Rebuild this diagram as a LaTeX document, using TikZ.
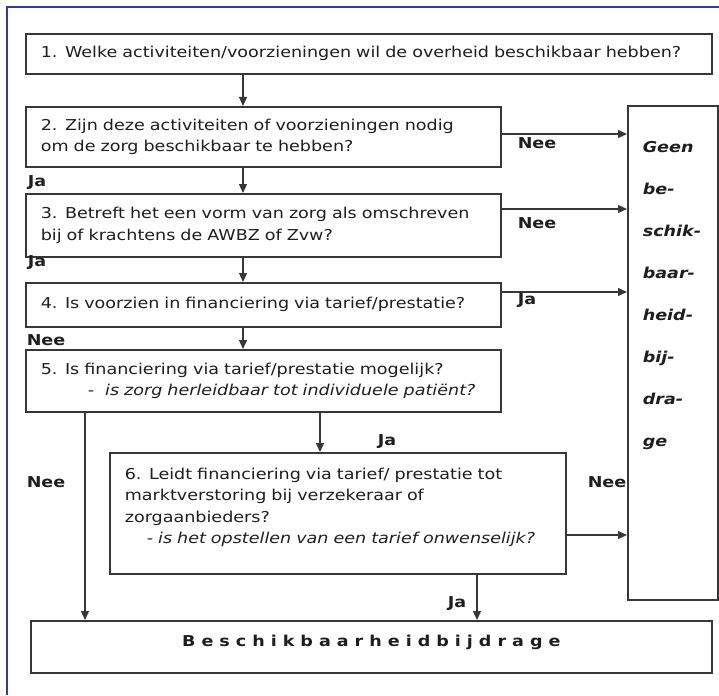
\documentclass[tikz,border=0pt]{standalone}
\usepackage{fontspec}
\setmainfont{DejaVu Sans}[FakeStretch = 1.17]
\newfontfamily\spatiefont{DejaVu Sans}[FakeStretch = 1.17, LetterSpace = 40]
\usetikzlibrary{calc, arrows.meta}

\definecolor{kader}{RGB}{48, 60, 160}
\definecolor{lijn}{RGB}{55, 55, 55}
\definecolor{tekst}{RGB}{30, 30, 30}

\tikzset{
    vak/.style = {draw = lijn, line width = 1.6pt, anchor = north west, align = left, inner xsep = 15pt, inner ysep = 0pt, text = tekst, font = \fontsize{15}{21.5}\selectfont},
    pijl/.style = {draw = lijn, line width = 1.3pt, -{Triangle[length = 9pt, width = 8pt]}},
    antw/.style = {text = tekst, font = \fontsize{15}{18}\selectfont\bfseries}
}

\begin{document}
\begin{tikzpicture}[x = 1pt, y = -1pt]
            \useasboundingbox (0, 0) rectangle (719, 695);
            \draw[kader, line width = 1.5pt] (7, 695) -- (7, 7) -- (719, 7);

            \coordinate (middenx) at (243, 0);
            \coordinate (nee2) at (0, 134);
            \coordinate (nee3) at (0, 209);
            \coordinate (ja4) at (0, 292);
            \coordinate (nee6) at (0, 535);
            \coordinate (nee5x) at (85, 0);
            \coordinate (ja5x) at (320, 0);
            \coordinate (ja6x) at (477, 0);

            \node[vak, text width = 656pt, minimum width = 686pt, minimum height = 40pt] (vraag1) at (25, 33) {1. Welke activiteiten/voorzieningen wil de overheid beschikbaar hebben?};
            \node[vak, text width = 445pt, minimum width = 475pt, minimum height = 60pt] (vraag2) at (25, 106) {2. Zijn deze activiteiten of voorzieningen nodig\\om de zorg beschikbaar te hebben?};
            \node[vak, text width = 445pt, minimum width = 475pt, minimum height = 63pt] (vraag3) at (25, 193) {3. Betreft het een vorm van zorg als omschreven\\bij of krachtens de AWBZ of Zvw?};
            \node[vak, text width = 445pt, minimum width = 475pt, minimum height = 44pt] (vraag4) at (25, 282) {4. Is voorzien in financiering via tarief/prestatie?};
            \node[vak, text width = 445pt, minimum width = 475pt, minimum height = 62pt] (vraag5) at (25, 349) {5. Is financiering via tarief/prestatie mogelijk?\\\hspace*{47pt}-\hspace*{11pt}\textit{is zorg herleidbaar tot individuele patiënt?}};
            \node[vak, text width = 426pt, minimum width = 456pt, minimum height = 121pt, text depth = 80pt] (vraag6) at (109, 452) {6. Leidt financiering via tarief/ prestatie tot\\marktverstoring bij verzekeraar of\\zorgaanbieders?\\\hspace*{22pt}\textit{- is het opstellen van een tarief onwenselijk?}};
            \node[vak, align = center, text width = 651pt, minimum width = 681pt, minimum height = 52pt, text depth = 12pt] (bijdrage) at (30, 620) {\spatiefont\bfseries Beschikbaarheidbijdrage};
            \node[vak, text width = 60pt, minimum width = 90pt, minimum height = 494pt, text depth = 412pt, font = \fontsize{15}{42}\selectfont\bfseries\itshape] (geen) at (627, 105) {Geen\\be-\\schik-\\baar-\\heid-\\bij-\\dra-\\ge};

            \draw[pijl] (vraag1.south -| middenx) -- (vraag2.north -| middenx);
            \draw[pijl] (vraag2.south -| middenx) -- (vraag3.north -| middenx);
            \draw[pijl] (vraag3.south -| middenx) -- (vraag4.north -| middenx);
            \draw[pijl] (vraag4.south -| middenx) -- (vraag5.north -| middenx);
            \draw[pijl] (vraag5.south -| ja5x) -- (vraag6.north -| ja5x);
            \draw[pijl] (vraag5.south -| nee5x) -- (bijdrage.north -| nee5x);
            \draw[pijl] (vraag6.south -| ja6x) -- (bijdrage.north -| ja6x);

            \draw[pijl] (vraag2.east |- nee2) -- (geen.west |- nee2);
            \draw[pijl] (vraag3.east |- nee3) -- (geen.west |- nee3);
            \draw[pijl] (vraag4.east |- ja4) -- (geen.west |- ja4);
            \draw[pijl] (vraag6.east |- nee6) -- (geen.west |- nee6);

            \node[antw] (lnee2) at (537, 143) {Nee};
            \node[antw] (lnee3) at (537, 223) {Nee};
            \node[antw] (lja4) at (527, 301) {Ja};
            \node[antw] (lja2) at (37, 183) {Ja};
            \node[antw] (lja3) at (37, 263) {Ja};
            \node[antw] (lnee4) at (46, 340) {Nee};
            \node[antw] (lnee5) at (46, 482) {Nee};
            \node[antw] (lja5) at (387, 442) {Ja};
            \node[antw] (lnee6) at (607, 482) {Nee};
            \node[antw] (lja6) at (457, 604) {Ja};
        \end{tikzpicture}
\end{document}
